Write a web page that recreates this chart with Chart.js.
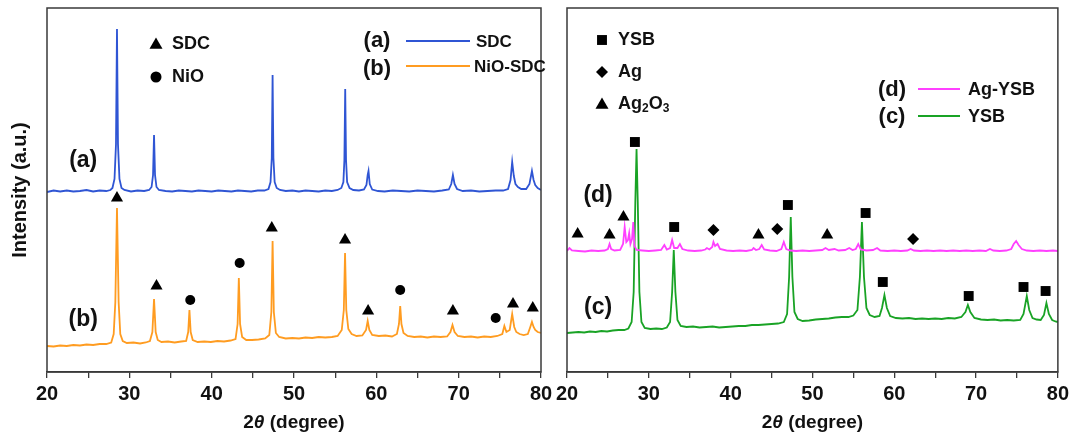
<!DOCTYPE html>
<html><head><meta charset="utf-8">
<script src="https://cdn.jsdelivr.net/npm/chart.js@4.4.1/dist/chart.umd.min.js"></script>
<style>
html,body{margin:0;padding:0;background:#fff;}
body{width:1073px;height:436px;position:relative;overflow:hidden;}
#wl{position:absolute;left:0;top:0;width:560px;height:436px;}
#wr{position:absolute;left:540px;top:0;width:533px;height:436px;}
</style></head><body>
<div id="wl"><canvas id="cl"></canvas></div>
<div id="wr"><canvas id="cr"></canvas></div>
<script>
// ---------------- DATA (2θ in degree, intensity in a.u.) ----------------
const tickValues = [20, 30, 40, 50, 60, 70, 80];

const sdcTheta = [20.0,20.8,21.6,22.4,23.2,24.0,24.8,25.6,26.4,27.2,27.7,27.95,28.2,28.38,28.5,28.62,28.8,29.05,29.4,30.2,31.0,31.8,32.4,32.7,32.88,33.0,33.12,33.3,33.6,34.4,35.2,36.0,36.8,37.6,38.4,39.2,40.0,40.8,41.6,42.4,43.2,44.0,44.8,45.6,46.4,46.9,47.15,47.3,47.4,47.5,47.65,47.9,48.3,49.0,49.8,50.6,51.4,52.2,53.0,53.8,54.6,55.3,55.75,56.0,56.12,56.22,56.32,56.45,56.75,57.2,57.9,58.5,58.8,58.95,59.05,59.2,59.5,60.2,61.0,62.0,63.0,64.0,65.0,66.0,67.0,68.0,68.8,69.1,69.3,69.5,69.8,70.5,71.5,72.5,73.5,74.5,75.4,76.0,76.3,76.5,76.7,76.9,77.2,77.6,78.2,78.6,78.9,79.1,79.3,79.6,80.0];
const sdcInt   = [180,181.5,180.5,181.5,180.5,181,182,180.5,181.5,181,182,184,193,228,343,228,193,184,182,180.5,181.5,181,182,185,197,237,197,185,182,181,180.5,181.5,181,180.5,181.5,181,180.5,181.5,181,180.5,181.5,181,180.5,181.5,181.5,183,190,214,297,214,190,184,182,181,181.5,180.5,181.5,181,180.5,181.5,181,182,184,190,212,283,212,190,184,182,181.5,182.5,187,197,201,188,182.5,181,180.5,181.5,181,180.5,181.5,181,180.5,181.5,182.5,188,197,188,183,181,181.5,180.5,181,181.5,181.5,183,192,210,196,188,185,183,183,188,201,192,187,184,182];

const nioSdcTheta = [20.0,20.8,21.6,22.4,23.2,24.0,24.8,25.6,26.4,27.2,27.8,28.1,28.3,28.5,28.7,28.9,29.2,29.7,30.5,31.3,32.0,32.5,32.8,33.0,33.2,33.45,33.9,34.7,35.5,36.3,36.9,37.15,37.3,37.45,37.7,38.3,39.1,39.9,40.7,41.5,42.3,42.9,43.15,43.3,43.45,43.7,44.2,44.9,45.7,46.5,47.0,47.25,47.4,47.55,47.8,48.2,49.0,49.8,50.6,51.4,52.2,53.0,53.8,54.6,55.3,55.8,56.05,56.2,56.35,56.6,57.0,57.6,58.3,58.75,58.95,59.15,59.5,60.3,61.1,61.9,62.5,62.75,62.9,63.05,63.3,63.8,64.6,65.4,66.2,67.0,67.8,68.6,69.0,69.25,69.5,69.9,70.7,71.5,72.3,73.1,73.9,74.7,75.3,75.55,75.8,76.2,76.5,76.75,77.0,77.4,77.9,78.4,78.7,78.9,79.1,79.3,79.6,80.0];
const nioSdcInt   = [26,25.5,26.5,26,27,26.5,27.5,27,28,28,29.5,38,70,164,70,38,31,29,29.5,28.5,29.5,31,40,73,40,32,30,30.5,29.5,30.5,31,40,62,40,32,30,30.5,30,31,30.5,31.5,33,48,94,48,35,32,32,32.5,33.5,37,60,131,60,39,35,33.5,34,33.5,34.5,34,35,34.5,35,36,42,62,119,62,43,38,36,36.5,42,51,42,37,36,36.5,35.5,38,48,66,48,39,36,35,35.5,34.5,35.5,35,35.5,40,47,40,36,35,35.5,34.5,35.5,35,36,38,46,40,42,58,45,40,38,37,38,45,50,45,42,40,39];

const sdcMarkTheta = [28.5, 33.3, 47.3, 56.2, 59.0, 69.3, 76.6, 79.0];
const sdcMarkInt   = [174, 86, 144, 132, 61, 61, 68, 64];
const nioMarkTheta = [37.4, 43.4, 62.9, 74.5];
const nioMarkInt   = [72, 109, 82, 54];

const agYsbTheta = [20.0,20.3,20.6,21.4,22.2,23.0,23.8,24.6,25.0,25.2,25.4,25.8,26.5,26.85,27.05,27.25,27.45,27.6,27.75,27.95,28.1,28.25,28.5,29.2,30.0,30.8,31.5,31.9,32.2,32.6,32.85,33.1,33.5,33.8,34.1,34.8,35.6,36.4,36.9,37.1,37.4,37.75,37.9,38.1,38.4,38.7,39.5,40.3,41.1,41.9,42.6,42.8,43.1,43.5,43.8,44.1,44.8,45.6,46.2,46.5,46.8,47.3,48.0,48.8,49.6,50.4,51.2,51.6,52.0,52.7,53.2,54.0,54.5,54.9,55.3,55.6,55.9,56.6,57.4,57.9,58.3,59.2,60.0,60.8,61.6,62.0,62.4,63.2,64.0,64.8,65.6,66.4,67.2,68.0,68.8,69.6,70.4,71.2,71.7,72.1,72.9,73.7,74.3,74.6,74.9,75.2,75.6,76.2,77.0,77.8,78.6,79.4,80.0];
const agYsbInt   = [121,124,121.5,121,120.5,121.5,121,121.5,123,128,123,121.5,122,128,145,130,132,139,128,133,150,126,122,121.5,121,121.5,122,127,122.5,124,132,124,124,128,123,121.5,121,121.5,122.5,124,122.5,125,130,126,128,123,121.5,121,121.5,121,122,124,122,123,127,122.5,121.5,121,123,130,123,121.5,121,121.5,121,121.5,122,124,122,123,121.5,122,124,122,123,128,122.5,121.5,122,124,121.5,121,121.5,121,121.5,123,121.5,121,121.5,121,121.5,121,121.5,121,121.5,121,121.5,121,123,121.5,121,121.5,123,128,131,127,123,121.5,121,121.5,121,121.5,121];

const ysbTheta = [20.0,20.7,21.4,22.1,22.8,23.5,24.2,24.9,25.6,26.3,27.0,27.5,27.9,28.15,28.35,28.5,28.65,28.85,29.1,29.5,30.2,30.9,31.6,32.2,32.6,32.85,33.05,33.25,33.5,33.9,34.6,35.4,36.2,37.0,37.8,38.6,39.4,40.2,41.0,41.8,42.6,43.4,44.2,45.0,45.8,46.5,46.9,47.15,47.35,47.55,47.8,48.2,48.8,49.6,50.4,51.2,52.0,52.8,53.6,54.4,55.0,55.5,55.8,56.05,56.3,56.6,57.0,57.6,58.2,58.5,58.8,59.1,59.5,60.2,61.0,61.8,62.6,63.4,64.2,65.0,65.8,66.6,67.4,68.2,68.7,69.0,69.3,69.8,70.6,71.4,72.2,73.0,73.8,74.6,75.4,75.8,76.2,76.5,76.9,77.4,77.9,78.3,78.6,78.9,79.3,79.7,80.0];
const ysbInt   = [39,39.5,40,39.5,40.5,40,41,40.5,41.5,42,42,43.5,50,80,170,223,170,80,50,44,43,43.5,43,44.5,50,80,122,80,52,46,45,45.5,44.5,45,45.5,44.5,45,45.5,46,46,47,47,47.5,48,48.5,50,58,95,155,95,60,53,51,51.5,52.5,53,53.5,54.5,55,55,56.5,62,95,150,95,64,57,55,56,64,77,64,56,54,53.5,54,53,53.5,53,53.5,53,54,53.5,55,60,67,60,54,52.5,52,52.5,51.5,52,51.5,52,58,76,62,54,52.5,52,57,69,58,52,50.5,50];

const ysbMarkTheta   = [28.3, 33.1, 47.0, 56.5, 58.6, 69.1, 75.8, 78.5];
const ysbMarkInt     = [230, 145, 167, 159, 90, 76, 85, 81];
const agMarkTheta    = [37.9, 45.7, 62.3];
const agMarkInt      = [142, 143, 133];
const ag2o3MarkTheta = [21.3, 25.2, 26.9, 43.4, 51.8];
const ag2o3MarkInt   = [138, 137, 155, 137, 137];

// ---------------- helpers ----------------
const FONT = '"Liberation Sans", Arial, Helvetica, sans-serif';
const zip = (xs, ys) => xs.map((x, i) => ({x, y: ys[i]}));
const C = {blue:'#2f55d4', orange:'#ff9c21', magenta:'#ff40ff', green:'#19a325', ink:'#111', axis:'#3a3a3a'};

function txt(ctx, s, x, y, size, align, style) {
  ctx.font = (style || 'bold') + ' ' + size + 'px ' + FONT;
  ctx.textAlign = align || 'left';
  ctx.textBaseline = 'middle';
  ctx.fillStyle = C.ink;
  ctx.fillText(s, x, y);
  return ctx.measureText(s).width;
}
function shape(ctx, kind, x, y, r) {
  ctx.save();
  ctx.fillStyle = '#000';
  ctx.beginPath();
  if (kind === 'triangle') { ctx.moveTo(x, y - r); ctx.lineTo(x + r * 0.866, y + r * 0.5); ctx.lineTo(x - r * 0.866, y + r * 0.5); ctx.closePath(); }
  else if (kind === 'circle') { ctx.arc(x, y, r, 0, Math.PI * 2); }
  else if (kind === 'rect') { const s = r * Math.SQRT1_2; ctx.rect(x - s, y - s, 2 * s, 2 * s); }
  else if (kind === 'diamond') { ctx.moveTo(x, y - r); ctx.lineTo(x + r, y); ctx.lineTo(x, y + r); ctx.lineTo(x - r, y); ctx.closePath(); }
  ctx.fill();
  ctx.restore();
}
function seg(ctx, x1, x2, y, color) {
  ctx.save(); ctx.strokeStyle = color; ctx.lineWidth = 1.8;
  ctx.beginPath(); ctx.moveTo(x1, y); ctx.lineTo(x2, y); ctx.stroke(); ctx.restore();
}
function xTitle(ctx, area) {
  const size = 19, y = 423;
  ctx.font = 'bold ' + size + 'px ' + FONT;
  const w1 = ctx.measureText('2').width;
  ctx.font = 'italic bold ' + size + 'px ' + FONT;
  const w2 = ctx.measureText('θ').width;
  ctx.font = 'bold ' + size + 'px ' + FONT;
  const w3 = ctx.measureText(' (degree)').width;
  let x = (area.left + area.right) / 2 - (w1 + w2 + w3) / 2;
  x += txt(ctx, '2', x, y, size);
  x += txt(ctx, 'θ', x, y, size, 'left', 'italic bold');
  txt(ctx, ' (degree)', x, y, size);
}

const framePlugin = {
  id: 'frame',
  afterDatasetsDraw(chart) {
    const {ctx, chartArea: a} = chart;
    ctx.save();
    ctx.strokeStyle = C.axis; ctx.lineWidth = 1.5;
    ctx.strokeRect(a.left, a.top, a.right - a.left, a.bottom - a.top);
    ctx.restore();
  }
};

function makeOptions(padL, padR, decorate) {
  return {
    responsive: true, maintainAspectRatio: false, animation: false,
    layout: {padding: {left: padL, right: padR, top: 8, bottom: 0}},
    plugins: {legend: {display: false}, tooltip: {enabled: false}, deco: {draw: decorate}},
    scales: {
      x: {
        type: 'linear', min: 20, max: 80,
        afterFit(scale) { scale.height = 64; },
        afterBuildTicks(scale) {
          const t = [];
          for (let i = 0; i < tickValues.length; i++) {
            t.push({value: tickValues[i]});
            if (i < tickValues.length - 1) t.push({value: (tickValues[i] + tickValues[i + 1]) / 2});
          }
          scale.ticks = t;
        },
        ticks: {
          autoSkip: false, maxRotation: 0, padding: 4, color: C.ink,
          font: {family: FONT, size: 20, weight: 'bold'},
          callback: v => tickValues.includes(v) ? String(v) : ''
        },
        grid: {drawOnChartArea: false, drawTicks: true, tickLength: 6, color: C.axis, lineWidth: 1.3},
        border: {color: C.axis, width: 1.5}
      },
      y: {type: 'linear', min: 0, max: 364, display: false}
    }
  };
}

const decoPlugin = {
  id: 'deco',
  afterDraw(chart, args, opts) { if (opts.draw) opts.draw(chart); }
};

const lineDs = (label, pts, color) => ({
  type: 'line', label, data: pts, borderColor: color, borderWidth: 1.8,
  pointRadius: 0, tension: 0, fill: false, order: 2
});
const markDs = (label, pts, style, r) => ({
  type: 'scatter', label, data: pts, pointStyle: style, pointRadius: r,
  backgroundColor: '#000', borderColor: '#000', borderWidth: 0, order: 1
});

// ---------------- left chart ----------------
const OFF_L = 0;
new Chart(document.getElementById('cl'), {
  type: 'line',
  data: {datasets: [
    lineDs('(a) SDC', zip(sdcTheta, sdcInt), C.blue),
    lineDs('(b) NiO-SDC', zip(nioSdcTheta, nioSdcInt), C.orange),
    markDs('SDC', zip(sdcMarkTheta, sdcMarkInt), 'triangle', 7),
    markDs('NiO', zip(nioMarkTheta, nioMarkInt), 'circle', 5)
  ]},
  options: makeOptions(47, 19, chart => {
    const {ctx, chartArea: a, scales} = chart;
    const X = px => px - OFF_L;
    ctx.save();
    shape(ctx, 'triangle', X(156), 45, 7.5); txt(ctx, 'SDC', X(172), 44, 18);
    shape(ctx, 'circle', X(156), 77, 5.5);   txt(ctx, 'NiO', X(172), 77, 18);
    txt(ctx, '(a)', X(377), 41, 22, 'center');
    seg(ctx, X(406), X(470), 41, C.blue);
    txt(ctx, 'SDC', X(476), 42, 17);
    txt(ctx, '(b)', X(377), 69, 22, 'center');
    seg(ctx, X(406), X(470), 66, C.orange);
    txt(ctx, 'NiO-SDC', X(474), 67, 17);
    txt(ctx, '(a)', scales.x.getPixelForValue(24.4), scales.y.getPixelForValue(211), 23, 'center');
    txt(ctx, '(b)', scales.x.getPixelForValue(24.4), scales.y.getPixelForValue(52), 23, 'center');
    ctx.save();
    ctx.translate(X(20), (a.top + a.bottom) / 2);
    ctx.rotate(-Math.PI / 2);
    txt(ctx, 'Intensity (a.u.)', 0, 0, 20, 'center');
    ctx.restore();
    xTitle(ctx, a);
    ctx.restore();
  })
  , plugins: [framePlugin, decoPlugin]
});

// ---------------- right chart ----------------
const OFF_R = 540;
new Chart(document.getElementById('cr'), {
  type: 'line',
  data: {datasets: [
    lineDs('(d) Ag-YSB', zip(agYsbTheta, agYsbInt), C.magenta),
    lineDs('(c) YSB', zip(ysbTheta, ysbInt), C.green),
    markDs('YSB', zip(ysbMarkTheta, ysbMarkInt), 'rect', 7),
    markDs('Ag', zip(agMarkTheta, agMarkInt), 'rectRot', 6),
    markDs('Ag2O3', zip(ag2o3MarkTheta, ag2o3MarkInt), 'triangle', 7)
  ]},
  options: makeOptions(27, 14, chart => {
    const {ctx, chartArea: a, scales} = chart;
    const X = px => px - OFF_R;
    ctx.save();
    shape(ctx, 'rect', X(602), 40, 7);      txt(ctx, 'YSB', X(618), 40, 18);
    shape(ctx, 'diamond', X(602), 72, 6);   txt(ctx, 'Ag', X(618), 72, 18);
    shape(ctx, 'triangle', X(602), 105, 7.5);
    let x = X(618);
    x += txt(ctx, 'Ag', x, 104, 18);
    x += txt(ctx, '2', x, 109, 12);
    x += txt(ctx, 'O', x, 104, 18);
    txt(ctx, '3', x, 109, 12);
    txt(ctx, '(d)', X(892), 90, 22, 'center');
    seg(ctx, X(918), X(960), 89, C.magenta);
    txt(ctx, 'Ag-YSB', X(968), 90, 18);
    txt(ctx, '(c)', X(892), 117, 22, 'center');
    seg(ctx, X(918), X(960), 116, C.green);
    txt(ctx, 'YSB', X(968), 117, 18);
    txt(ctx, '(d)', scales.x.getPixelForValue(23.8), scales.y.getPixelForValue(176), 23, 'center');
    txt(ctx, '(c)', scales.x.getPixelForValue(23.8), scales.y.getPixelForValue(64), 23, 'center');
    xTitle(ctx, a);
    ctx.restore();
  })
  , plugins: [framePlugin, decoPlugin]
});
</script>
</body></html>
